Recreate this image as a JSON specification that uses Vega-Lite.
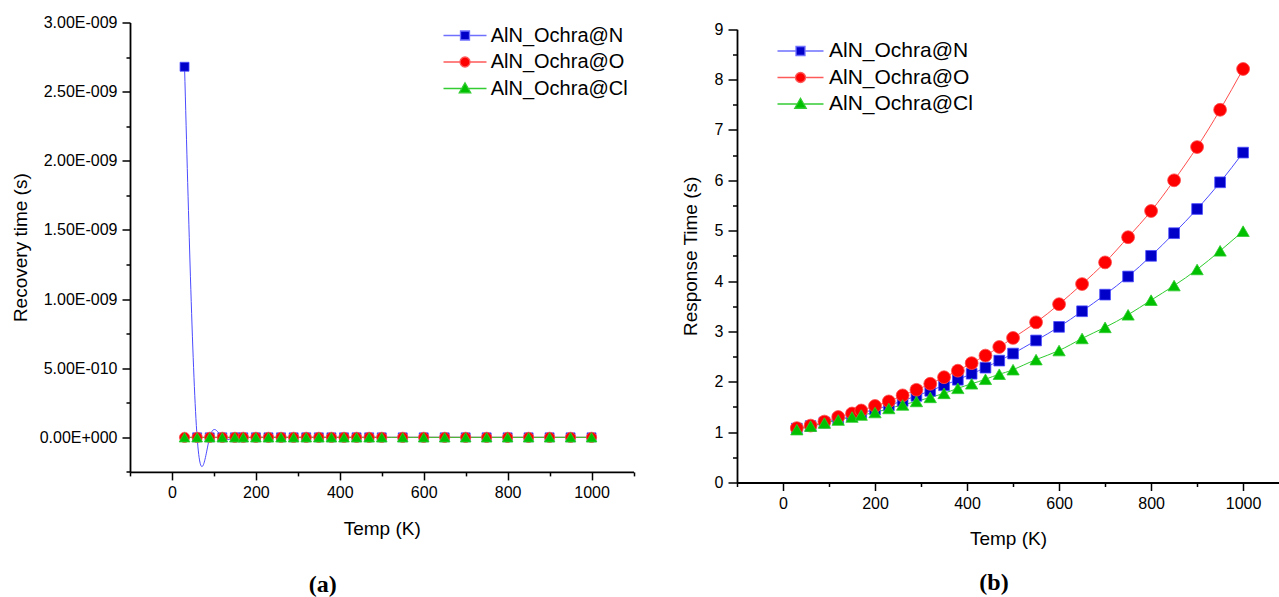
{
  "$schema": "https://vega.github.io/schema/vega-lite/v6.json",
  "autosize": {"type": "pad"},
  "padding": {"left": 11, "top": 14.5, "right": 0, "bottom": 0},
  "bounds": "flush",
  "spacing": 103,
  "background": "white",
  "config": {
    "view": {"stroke": null},
    "axis": {"grid": false, "domainColor": "black", "tickColor": "black", "labelColor": "black", "titleColor": "black", "labelFont": "Liberation Sans", "titleFont": "Liberation Sans", "titleFontWeight": "normal", "labelFontSize": 16, "titleFontSize": 19, "domainWidth": 1.8, "tickWidth": 1.5, "labelOverlap": false, "labelFlush": false, "labelBound": false},
    "legend": {"labelFont": "Liberation Sans", "labelColor": "black"}
  },
  "datasets": {
    "rec": [
      {"T":30,"v":2.68e-9,"s":"AlN_Ochra@N"},{"T":60,"v":0,"s":"AlN_Ochra@N"},{"T":90,"v":0,"s":"AlN_Ochra@N"},{"T":120,"v":0,"s":"AlN_Ochra@N"},{"T":150,"v":0,"s":"AlN_Ochra@N"},{"T":170,"v":0,"s":"AlN_Ochra@N"},{"T":200,"v":0,"s":"AlN_Ochra@N"},{"T":230,"v":0,"s":"AlN_Ochra@N"},{"T":260,"v":0,"s":"AlN_Ochra@N"},{"T":290,"v":0,"s":"AlN_Ochra@N"},{"T":320,"v":0,"s":"AlN_Ochra@N"},{"T":350,"v":0,"s":"AlN_Ochra@N"},{"T":380,"v":0,"s":"AlN_Ochra@N"},{"T":410,"v":0,"s":"AlN_Ochra@N"},{"T":440,"v":0,"s":"AlN_Ochra@N"},{"T":470,"v":0,"s":"AlN_Ochra@N"},{"T":500,"v":0,"s":"AlN_Ochra@N"},{"T":550,"v":0,"s":"AlN_Ochra@N"},{"T":600,"v":0,"s":"AlN_Ochra@N"},{"T":650,"v":0,"s":"AlN_Ochra@N"},{"T":700,"v":0,"s":"AlN_Ochra@N"},{"T":750,"v":0,"s":"AlN_Ochra@N"},{"T":800,"v":0,"s":"AlN_Ochra@N"},{"T":850,"v":0,"s":"AlN_Ochra@N"},{"T":900,"v":0,"s":"AlN_Ochra@N"},{"T":950,"v":0,"s":"AlN_Ochra@N"},{"T":1000,"v":0,"s":"AlN_Ochra@N"},
      {"T":30,"v":0,"s":"AlN_Ochra@O"},{"T":60,"v":0,"s":"AlN_Ochra@O"},{"T":90,"v":0,"s":"AlN_Ochra@O"},{"T":120,"v":0,"s":"AlN_Ochra@O"},{"T":150,"v":0,"s":"AlN_Ochra@O"},{"T":170,"v":0,"s":"AlN_Ochra@O"},{"T":200,"v":0,"s":"AlN_Ochra@O"},{"T":230,"v":0,"s":"AlN_Ochra@O"},{"T":260,"v":0,"s":"AlN_Ochra@O"},{"T":290,"v":0,"s":"AlN_Ochra@O"},{"T":320,"v":0,"s":"AlN_Ochra@O"},{"T":350,"v":0,"s":"AlN_Ochra@O"},{"T":380,"v":0,"s":"AlN_Ochra@O"},{"T":410,"v":0,"s":"AlN_Ochra@O"},{"T":440,"v":0,"s":"AlN_Ochra@O"},{"T":470,"v":0,"s":"AlN_Ochra@O"},{"T":500,"v":0,"s":"AlN_Ochra@O"},{"T":550,"v":0,"s":"AlN_Ochra@O"},{"T":600,"v":0,"s":"AlN_Ochra@O"},{"T":650,"v":0,"s":"AlN_Ochra@O"},{"T":700,"v":0,"s":"AlN_Ochra@O"},{"T":750,"v":0,"s":"AlN_Ochra@O"},{"T":800,"v":0,"s":"AlN_Ochra@O"},{"T":850,"v":0,"s":"AlN_Ochra@O"},{"T":900,"v":0,"s":"AlN_Ochra@O"},{"T":950,"v":0,"s":"AlN_Ochra@O"},{"T":1000,"v":0,"s":"AlN_Ochra@O"},
      {"T":30,"v":0,"s":"AlN_Ochra@Cl"},{"T":60,"v":0,"s":"AlN_Ochra@Cl"},{"T":90,"v":0,"s":"AlN_Ochra@Cl"},{"T":120,"v":0,"s":"AlN_Ochra@Cl"},{"T":150,"v":0,"s":"AlN_Ochra@Cl"},{"T":170,"v":0,"s":"AlN_Ochra@Cl"},{"T":200,"v":0,"s":"AlN_Ochra@Cl"},{"T":230,"v":0,"s":"AlN_Ochra@Cl"},{"T":260,"v":0,"s":"AlN_Ochra@Cl"},{"T":290,"v":0,"s":"AlN_Ochra@Cl"},{"T":320,"v":0,"s":"AlN_Ochra@Cl"},{"T":350,"v":0,"s":"AlN_Ochra@Cl"},{"T":380,"v":0,"s":"AlN_Ochra@Cl"},{"T":410,"v":0,"s":"AlN_Ochra@Cl"},{"T":440,"v":0,"s":"AlN_Ochra@Cl"},{"T":470,"v":0,"s":"AlN_Ochra@Cl"},{"T":500,"v":0,"s":"AlN_Ochra@Cl"},{"T":550,"v":0,"s":"AlN_Ochra@Cl"},{"T":600,"v":0,"s":"AlN_Ochra@Cl"},{"T":650,"v":0,"s":"AlN_Ochra@Cl"},{"T":700,"v":0,"s":"AlN_Ochra@Cl"},{"T":750,"v":0,"s":"AlN_Ochra@Cl"},{"T":800,"v":0,"s":"AlN_Ochra@Cl"},{"T":850,"v":0,"s":"AlN_Ochra@Cl"},{"T":900,"v":0,"s":"AlN_Ochra@Cl"},{"T":950,"v":0,"s":"AlN_Ochra@Cl"},{"T":1000,"v":0,"s":"AlN_Ochra@Cl"}
    ],
    "resp": [
      {"T":30,"v":1.07,"s":"AlN_Ochra@N"},{"T":60,"v":1.12,"s":"AlN_Ochra@N"},{"T":90,"v":1.19,"s":"AlN_Ochra@N"},{"T":120,"v":1.26,"s":"AlN_Ochra@N"},{"T":150,"v":1.33,"s":"AlN_Ochra@N"},{"T":170,"v":1.38,"s":"AlN_Ochra@N"},{"T":200,"v":1.45,"s":"AlN_Ochra@N"},{"T":230,"v":1.53,"s":"AlN_Ochra@N"},{"T":260,"v":1.62,"s":"AlN_Ochra@N"},{"T":290,"v":1.72,"s":"AlN_Ochra@N"},{"T":320,"v":1.82,"s":"AlN_Ochra@N"},{"T":350,"v":1.93,"s":"AlN_Ochra@N"},{"T":380,"v":2.04,"s":"AlN_Ochra@N"},{"T":410,"v":2.16,"s":"AlN_Ochra@N"},{"T":440,"v":2.28,"s":"AlN_Ochra@N"},{"T":470,"v":2.42,"s":"AlN_Ochra@N"},{"T":500,"v":2.56,"s":"AlN_Ochra@N"},{"T":550,"v":2.82,"s":"AlN_Ochra@N"},{"T":600,"v":3.09,"s":"AlN_Ochra@N"},{"T":650,"v":3.40,"s":"AlN_Ochra@N"},{"T":700,"v":3.73,"s":"AlN_Ochra@N"},{"T":750,"v":4.09,"s":"AlN_Ochra@N"},{"T":800,"v":4.50,"s":"AlN_Ochra@N"},{"T":850,"v":4.95,"s":"AlN_Ochra@N"},{"T":900,"v":5.43,"s":"AlN_Ochra@N"},{"T":950,"v":5.96,"s":"AlN_Ochra@N"},{"T":1000,"v":6.55,"s":"AlN_Ochra@N"},
      {"T":30,"v":1.08,"s":"AlN_Ochra@O"},{"T":60,"v":1.13,"s":"AlN_Ochra@O"},{"T":90,"v":1.21,"s":"AlN_Ochra@O"},{"T":120,"v":1.30,"s":"AlN_Ochra@O"},{"T":150,"v":1.37,"s":"AlN_Ochra@O"},{"T":170,"v":1.43,"s":"AlN_Ochra@O"},{"T":200,"v":1.52,"s":"AlN_Ochra@O"},{"T":230,"v":1.61,"s":"AlN_Ochra@O"},{"T":260,"v":1.73,"s":"AlN_Ochra@O"},{"T":290,"v":1.84,"s":"AlN_Ochra@O"},{"T":320,"v":1.96,"s":"AlN_Ochra@O"},{"T":350,"v":2.09,"s":"AlN_Ochra@O"},{"T":380,"v":2.22,"s":"AlN_Ochra@O"},{"T":410,"v":2.37,"s":"AlN_Ochra@O"},{"T":440,"v":2.52,"s":"AlN_Ochra@O"},{"T":470,"v":2.69,"s":"AlN_Ochra@O"},{"T":500,"v":2.87,"s":"AlN_Ochra@O"},{"T":550,"v":3.18,"s":"AlN_Ochra@O"},{"T":600,"v":3.54,"s":"AlN_Ochra@O"},{"T":650,"v":3.94,"s":"AlN_Ochra@O"},{"T":700,"v":4.37,"s":"AlN_Ochra@O"},{"T":750,"v":4.87,"s":"AlN_Ochra@O"},{"T":800,"v":5.39,"s":"AlN_Ochra@O"},{"T":850,"v":6.00,"s":"AlN_Ochra@O"},{"T":900,"v":6.66,"s":"AlN_Ochra@O"},{"T":950,"v":7.40,"s":"AlN_Ochra@O"},{"T":1000,"v":8.21,"s":"AlN_Ochra@O"},
      {"T":30,"v":1.05,"s":"AlN_Ochra@Cl"},{"T":60,"v":1.12,"s":"AlN_Ochra@Cl"},{"T":90,"v":1.18,"s":"AlN_Ochra@Cl"},{"T":120,"v":1.24,"s":"AlN_Ochra@Cl"},{"T":150,"v":1.30,"s":"AlN_Ochra@Cl"},{"T":170,"v":1.34,"s":"AlN_Ochra@Cl"},{"T":200,"v":1.39,"s":"AlN_Ochra@Cl"},{"T":230,"v":1.47,"s":"AlN_Ochra@Cl"},{"T":260,"v":1.54,"s":"AlN_Ochra@Cl"},{"T":290,"v":1.61,"s":"AlN_Ochra@Cl"},{"T":320,"v":1.69,"s":"AlN_Ochra@Cl"},{"T":350,"v":1.77,"s":"AlN_Ochra@Cl"},{"T":380,"v":1.87,"s":"AlN_Ochra@Cl"},{"T":410,"v":1.96,"s":"AlN_Ochra@Cl"},{"T":440,"v":2.05,"s":"AlN_Ochra@Cl"},{"T":470,"v":2.15,"s":"AlN_Ochra@Cl"},{"T":500,"v":2.24,"s":"AlN_Ochra@Cl"},{"T":550,"v":2.44,"s":"AlN_Ochra@Cl"},{"T":600,"v":2.62,"s":"AlN_Ochra@Cl"},{"T":650,"v":2.86,"s":"AlN_Ochra@Cl"},{"T":700,"v":3.08,"s":"AlN_Ochra@Cl"},{"T":750,"v":3.33,"s":"AlN_Ochra@Cl"},{"T":800,"v":3.62,"s":"AlN_Ochra@Cl"},{"T":850,"v":3.91,"s":"AlN_Ochra@Cl"},{"T":900,"v":4.23,"s":"AlN_Ochra@Cl"},{"T":950,"v":4.60,"s":"AlN_Ochra@Cl"},{"T":1000,"v":4.99,"s":"AlN_Ochra@Cl"}
    ]
  },
  "resolve": {"scale": {"x": "independent", "y": "independent", "shape": "independent", "fill": "independent", "stroke": "independent"}, "legend": {"shape": "independent", "fill": "independent", "stroke": "independent"}},
  "hconcat": [
    {
      "width": 503.5,
      "height": 449.4,
      "data": {"name": "rec"},
      "title": {"text": "(a)", "orient": "bottom", "anchor": "middle", "font": "Liberation Serif", "fontSize": 24, "fontWeight": "bold", "color": "black", "dx": -59, "offset": 34},
      "encoding": {
        "x": {"field": "T", "type": "quantitative", "scale": {"domain": [-100, 1100], "nice": false, "zero": false},
          "axis": {"title": "Temp (K)", "values": [-100,0,100,200,300,400,500,600,700,800,900,1000,1100], "labelExpr": "datum.value % 200 === 0 ? format(datum.value, 'd') : ''", "tickSize": {"condition": {"test": "datum.value % 200 === 0", "value": 8}, "value": 4}, "labelPadding": 5, "titlePadding": 19}},
        "y": {"field": "v", "type": "quantitative", "scale": {"domain": [-2.5e-10, 3e-9], "nice": false, "zero": false},
          "axis": {"title": "Recovery time (s)", "values": [-2.5e-10,0,2.5e-10,5e-10,7.5e-10,1e-9,1.25e-9,1.5e-9,1.75e-9,2e-9,2.25e-9,2.5e-9,2.75e-9,3e-9],
            "labelExpr": "datum.value === 0 ? '0.00E+000' : (abs(round(datum.value*2e9) - datum.value*2e9) > 0.01 ? '' : (datum.value < 9.9e-10 ? format(datum.value*1e10, '.2f') + 'E-010' : format(datum.value*1e9, '.2f') + 'E-009'))",
            "tickSize": {"condition": {"test": "abs(round(datum.value*2e9) - datum.value*2e9) < 0.01", "value": 8}, "value": 4}, "labelPadding": 5, "titlePadding": 9}}
      },
      "layer": [
        {"mark": {"type": "line", "interpolate": "natural", "strokeWidth": 1},
          "encoding": {
            "stroke": {"condition": [{"test": "datum.s === 'AlN_Ochra@N'", "value": "#4b4bff"}, {"test": "datum.s === 'AlN_Ochra@O'", "value": "#ff4d4d"}], "value": "#2fcc2f"},
            "detail": {"field": "s"}}},
        {"mark": {"type": "point", "filled": true, "strokeWidth": 1.3},
          "encoding": {
            "opacity": {"condition": {"test": "isValid(datum.s)", "value": 0}, "value": 1},
            "fill": {"field": "s", "type": "nominal", "scale": {"domain": ["AlN_Ochra@N","AlN_Ochra@O","AlN_Ochra@Cl"], "range": ["#0000c8","#ff0000","#00c000"]}},
            "stroke": {"field": "s", "type": "nominal", "scale": {"domain": ["AlN_Ochra@N","AlN_Ochra@O","AlN_Ochra@Cl"], "range": ["#7070ff","#ff5a5a","#33cc33"]}},
            "shape": {"field": "s", "type": "nominal", "scale": {"domain": ["AlN_Ochra@N","AlN_Ochra@O","AlN_Ochra@Cl"], "range": ["M-4.3,0H-0.9M0.9,0H4.3M-0.9,-0.9H0.9V0.9H-0.9Z", "M-4.3,0H-1M1,0H4.3M-1,0A1,1,0,1,0,1,0A1,1,0,1,0,-1,0Z", "M-4.3,0H-0.7M0.7,0H4.3M0,-1.15L1.15,0.85H-1.15Z"]},
              "legend": {"title": null, "orient": "none", "legendX": 325, "legendY": 3, "padding": 0, "symbolSize": 100, "symbolOpacity": 1, "symbolStrokeWidth": 1.3, "labelFontSize": 20, "labelOffset": 15.7, "rowPadding": 6.5}}
          }},
        {"mark": {"type": "point", "filled": true, "strokeWidth": 0.8, "opacity": 1},
          "encoding": {
            "fill": {"condition": [{"test": "datum.s === 'AlN_Ochra@N'", "value": "#0000c8"}, {"test": "datum.s === 'AlN_Ochra@O'", "value": "#ff0000"}], "value": "#00c000"},
            "stroke": {"condition": [{"test": "datum.s === 'AlN_Ochra@N'", "value": "#4b4bff"}, {"test": "datum.s === 'AlN_Ochra@O'", "value": "#ff4d4d"}], "value": "#2fcc2f"},
            "size": {"condition": [{"test": "datum.s === 'AlN_Ochra@N'", "value": 80}, {"test": "datum.s === 'AlN_Ochra@O'", "value": 105}], "value": 115},
            "shape": {"condition": [{"test": "datum.s === 'AlN_Ochra@N'", "value": "square"}, {"test": "datum.s === 'AlN_Ochra@O'", "value": "circle"}], "value": "triangle-up"}
          }}
      ]
    },
    {
      "width": 542,
      "height": 460,
      "data": {"name": "resp"},
      "title": {"text": "(b)", "orient": "bottom", "anchor": "middle", "font": "Liberation Serif", "fontSize": 24, "fontWeight": "bold", "color": "black", "dx": -14, "offset": 22},
      "encoding": {
        "x": {"field": "T", "type": "quantitative", "scale": {"domain": [-100, 1078], "nice": false, "zero": false},
          "axis": {"title": "Temp (K)", "values": [-100,0,100,200,300,400,500,600,700,800,900,1000], "labelExpr": "datum.value % 200 === 0 ? format(datum.value, 'd') : ''", "tickSize": {"condition": {"test": "datum.value % 200 === 0", "value": 8}, "value": 4}, "labelPadding": 5, "titlePadding": 18}},
        "y": {"field": "v", "type": "quantitative", "scale": {"domain": [0, 9], "range": [460, 6.7], "nice": false, "zero": false},
          "axis": {"title": "Response Time (s)", "values": [0,0.5,1,1.5,2,2.5,3,3.5,4,4.5,5,5.5,6,6.5,7,7.5,8,8.5,9],
            "labelExpr": "datum.value % 1 === 0 ? format(datum.value, 'd') : ''",
            "tickSize": {"condition": {"test": "datum.value % 1 === 0", "value": 9}, "value": 4.5}, "labelPadding": 5, "titlePadding": 14}}
      },
      "layer": [
        {"mark": {"type": "line", "interpolate": "natural", "strokeWidth": 1},
          "encoding": {
            "stroke": {"condition": [{"test": "datum.s === 'AlN_Ochra@N'", "value": "#4b4bff"}, {"test": "datum.s === 'AlN_Ochra@O'", "value": "#ff4d4d"}], "value": "#2fcc2f"},
            "detail": {"field": "s"}}},
        {"mark": {"type": "point", "filled": true, "strokeWidth": 1.3},
          "encoding": {
            "opacity": {"condition": {"test": "isValid(datum.s)", "value": 0}, "value": 1},
            "fill": {"field": "s", "type": "nominal", "scale": {"domain": ["AlN_Ochra@N","AlN_Ochra@O","AlN_Ochra@Cl"], "range": ["#0000c8","#ff0000","#00c000"]}},
            "stroke": {"field": "s", "type": "nominal", "scale": {"domain": ["AlN_Ochra@N","AlN_Ochra@O","AlN_Ochra@Cl"], "range": ["#7070ff","#ff5a5a","#33cc33"]}},
            "shape": {"field": "s", "type": "nominal", "scale": {"domain": ["AlN_Ochra@N","AlN_Ochra@O","AlN_Ochra@Cl"], "range": ["M-4.6,0H-0.9M0.9,0H4.6M-0.9,-0.9H0.9V0.9H-0.9Z", "M-4.6,0H-1M1,0H4.6M-1,0A1,1,0,1,0,1,0A1,1,0,1,0,-1,0Z", "M-4.6,0H-0.7M0.7,0H4.6M0,-1.15L1.15,0.85H-1.15Z"]},
              "legend": {"title": null, "orient": "none", "legendX": 53, "legendY": 18, "padding": 0, "symbolSize": 100, "symbolOpacity": 1, "symbolStrokeWidth": 1.3, "labelFontSize": 21, "labelOffset": 18, "rowPadding": 4.5}}
          }},
        {"mark": {"type": "point", "filled": true, "strokeWidth": 0.8, "opacity": 1},
          "encoding": {
            "fill": {"condition": [{"test": "datum.s === 'AlN_Ochra@N'", "value": "#0000c8"}, {"test": "datum.s === 'AlN_Ochra@O'", "value": "#ff0000"}], "value": "#00c000"},
            "stroke": {"condition": [{"test": "datum.s === 'AlN_Ochra@N'", "value": "#4b4bff"}, {"test": "datum.s === 'AlN_Ochra@O'", "value": "#ff4d4d"}], "value": "#2fcc2f"},
            "size": {"condition": [{"test": "datum.s === 'AlN_Ochra@N'", "value": 115}, {"test": "datum.s === 'AlN_Ochra@O'", "value": 165}], "value": 150},
            "shape": {"condition": [{"test": "datum.s === 'AlN_Ochra@N'", "value": "square"}, {"test": "datum.s === 'AlN_Ochra@O'", "value": "circle"}], "value": "triangle-up"}
          }}
      ]
    }
  ]
}
